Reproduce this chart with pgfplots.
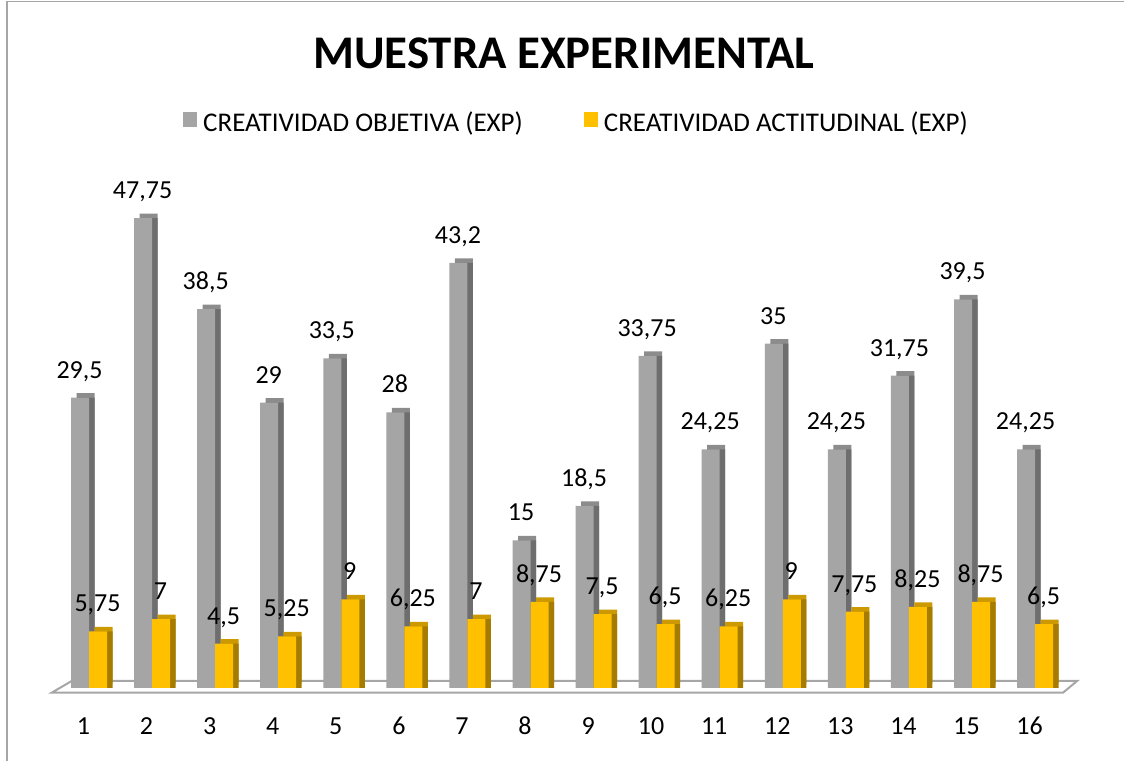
\documentclass[border=0pt]{standalone}
\usepackage{pgfplots}
\pgfplotsset{compat=1.18}
\usepackage{pgfplotstable}
\usepackage{fontspec}
\setmainfont{Carlito}
\definecolor{gfront}{HTML}{A5A5A5}
\definecolor{gside}{HTML}{6E6E6E}
\definecolor{gtop}{HTML}{8C8C8C}
\definecolor{yfront}{HTML}{FFC000}
\definecolor{yside}{HTML}{A67C00}
\definecolor{ytop}{HTML}{CC9900}
\definecolor{framec}{HTML}{A6A6A6}

\pgfplotstableread{
x obj act
1 29.5 5.75
2 47.75 7
3 38.5 4.5
4 29 5.25
5 33.5 9
6 28 6.25
7 43.2 7
8 15 8.75
9 18.5 7.5
10 33.75 6.5
11 24.25 6.25
12 35 9
13 24.25 7.75
14 31.75 8.25
15 39.5 8.75
16 24.25 6.5
}\datatab

\begin{document}
\begin{tikzpicture}[x=1bp,y=1bp]
\path[use as bounding box] (0,0) rectangle (1124,761);
\draw[framec, line width=1.5bp] (7,0) -- (7,759.5) -- (1124,759.5);
\node[anchor=base, inner sep=0pt, font=\bfseries\fontsize{46.8bp}{50bp}\selectfont] at (564,692.7) {MUESTRA EXPERIMENTAL};
\filldraw[fill=white, draw=framec, line width=2bp] (51.7,68.3) -- (71.7,80) -- (1077,80) -- (1063,68.3) -- cycle;
\begin{axis}[
  at={(60bp,73bp)}, anchor=south west, scale only axis,
  width=1010bp, height=492bp,
  xmin=0.54, xmax=16.554, ymin=0, ymax=50, clip=false,
  axis line style={draw=none}, major tick length=0pt, ytick=\empty,
  xtick={1,...,16},
  xticklabel style={anchor=base, yshift=-47bp, xshift=-5.5bp, font=\fontsize{26bp}{30bp}\selectfont},
  /pgf/number format/assume math mode=true,
  /pgf/number format/use comma,
  /pgf/number format/1000 sep={},
  legend style={at={(0.1218,1.1504)}, anchor=west, draw=none, fill=none,
    legend columns=2, inner sep=0pt,
    font=\fontsize{27bp}{30bp}\selectfont,
    nodes={inner sep=0pt},
    /tikz/every odd column/.append style={column sep=6bp},
    /tikz/every even column/.append style={column sep=61bp}},
  legend cell align=left,
  nodes near coords style={anchor=base, yshift=19.5bp, font=\fontsize{26bp}{30bp}\selectfont, text=black},
]
% gray series
\addplot[ybar, bar width=18bp, bar shift=-3.5bp, yshift=4.5bp, fill=gtop, draw=none, forget plot] table[x=x,y=obj]{\datatab};
\addplot[ybar, bar width=18bp, bar shift=-3.5bp, fill=gside, draw=none, forget plot] table[x=x,y=obj]{\datatab};
\addplot[ybar, bar width=18bp, bar shift=-9bp, fill=gfront, draw=none, nodes near coords,
  every node near coord/.append style={xshift=-9.5bp},
  legend image code/.code={\fill[gfront] (0bp,-5bp) rectangle (14bp,9.5bp);}] table[x=x,y=obj]{\datatab};
\addlegendentry{CREATIVIDAD OBJETIVA (EXP)}
% yellow series
\addplot[ybar, bar width=18bp, bar shift=14.5bp, yshift=4.5bp, fill=ytop, draw=none, forget plot] table[x=x,y=act]{\datatab};
\addplot[ybar, bar width=18bp, bar shift=14.5bp, fill=yside, draw=none, forget plot] table[x=x,y=act]{\datatab};
\addplot[ybar, bar width=18bp, bar shift=9bp, fill=yfront, draw=none, nodes near coords,
  every node near coord/.append style={xshift=8.5bp},
  legend image code/.code={\fill[yfront] (0bp,-5bp) rectangle (14bp,9.5bp);}] table[x=x,y=act]{\datatab};
\addlegendentry{CREATIVIDAD ACTITUDINAL (EXP)}
\end{axis}
\end{tikzpicture}
\end{document}
